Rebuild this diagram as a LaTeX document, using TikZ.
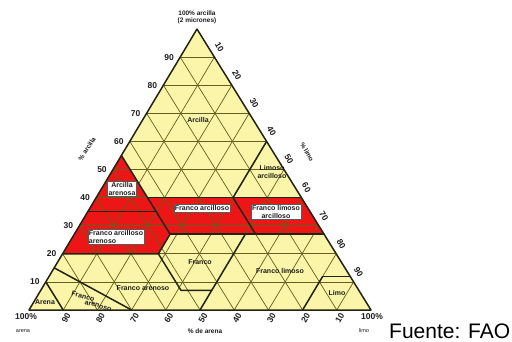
\documentclass[tikz,border=0pt]{standalone}
\usepackage{fontspec}
\setmainfont{Liberation Sans}
\definecolor{soilyel}{RGB}{250,245,168}
\definecolor{soilred}{RGB}{236,22,22}
\definecolor{gridcol}{RGB}{100,95,30}
\definecolor{bndcol}{RGB}{35,35,20}
\definecolor{txtcol}{RGB}{30,30,30}
\definecolor{boxedge}{RGB}{90,90,90}
\tikzset{
  gridline/.style={draw=gridcol,line width=0.7pt},
  bndline/.style={draw=bndcol,line width=1.5pt,line join=round},
  ticklab/.style={font=\fontsize{8.5}{9}\selectfont\bfseries,text=txtcol,inner sep=0pt},
  smalllab/.style={font=\fontsize{6.5}{7}\selectfont\bfseries,text=txtcol,inner sep=0pt,align=center},
  tinylab/.style={font=\fontsize{5.5}{6}\selectfont,text=txtcol,inner sep=0pt},
  arealab/.style={font=\fontsize{7}{7.5}\selectfont\bfseries,text=txtcol,inner sep=0pt,align=center},
  boxlab/.style={font=\fontsize{7}{7.5}\selectfont\bfseries,text=txtcol,fill=white,draw=boxedge,line width=0.5pt,inner sep=1.2pt,align=center}
}
\begin{document}
\begin{tikzpicture}[x=1pt,y=-1pt]
\useasboundingbox (0,0) rectangle (512,341);
\fill[white] (0,0) rectangle (512,341);
\begin{scope}[shift={(29,310)},x={(3.42pt,0pt)},y={(1.68pt,2.81pt)}]
  % background triangle (silt, clay)
  \fill[soilyel] (0,0) -- (100,0) -- (0,100) -- cycle;
  % red classes
  \fill[soilred] (0,55) -- (15,40) -- (60,40) -- (73,27) -- (28,27) -- (28,20) -- (0,20) -- cycle;
  % grid
  \foreach \k in {10,20,...,90} {
    \draw[gridline] (0,\k) -- ({100-\k},\k);
    \draw[gridline] (\k,0) -- (\k,{100-\k});
    \draw[gridline] ({100-\k},0) -- (0,{100-\k});
  }
  % class boundaries
  \draw[bndline] (15,40) -- (60,40);
  \draw[bndline] (40,40) -- (40,60);
  \draw[bndline] (0,55) -- (28,27);
  \draw[bndline] (0,35) -- (20,35);
  \draw[bndline] (40,40) -- (53,27);
  \draw[bndline] (28,27) -- (73,27);
  \draw[bndline] (28,27) -- (28,20) -- (0,20);
  \draw[bndline] (28,20) -- (41,7) -- (50,7) -- (50,0);
  \draw[bndline] (50,27) -- (50,7);
  \draw[bndline] (80,12) -- (88,12);
  \draw[bndline] (80,12) -- (80,0);
  \draw[bndline] (0,15) -- (30,0);
  \draw[bndline] (0,10) -- (10,0);
  \draw[bndline] (0,0) -- (100,0) -- (0,100) -- cycle;
\end{scope}
% axis labels
\foreach \c in {10,20,...,90}
  \node[ticklab] (cl\c) at ({29+1.68*\c-11},{310-2.81*\c}) {\c};
\foreach \t in {10,20,...,90}
  \node[ticklab,rotate=-60] (si\t) at ({197+1.74*\t+5},{29+2.81*\t-10}) {\t};
\foreach \s in {10,20,...,90}
  \node[ticklab,rotate=60] (sa\s) at ({29+3.42*(100-\s)+3},318) {\s};
\node[smalllab] (top) at (197,17) {100\% arcilla\\(2 micrones)};
\node[ticklab] (cornerL) at (26,317) {100\%};
\node[tinylab] (arenaL) at (23,331) {arena};
\node[ticklab] (cornerR) at (372,317) {100\%};
\node[tinylab] (limoR) at (364,331) {limo};
\node[smalllab] (dearena) at (205,331) {\% de arena};
\node[smalllab,rotate=58] (pcla) at (87,149) {\% arcilla};
\node[smalllab,rotate=-60] (pcli) at (307,152) {\% limo};
% area labels
\node[arealab] (arcilla) at (198,120) {Arcilla};
\node[arealab] (limarc) at (272,172) {Limoso\\arcilloso};
\node[boxlab] (arcaren) at (122,189) {Arcilla\\arenosa};
\node[boxlab] (franarc) at (202,208) {Franco arcilloso};
\node[boxlab] (franlimarc) at (276,212) {Franco limoso\\arcilloso};
\node[boxlab,align=left] (franarcaren) at (116,237) {Franco arcilloso\\arenoso};
\node[arealab] (franco) at (200,262) {Franco};
\node[arealab] (franlim) at (280,271) {Franco limoso};
\node[arealab] (franaren) at (143,288) {Franco arenoso};
\node[arealab,rotate=-15] (fa1) at (83,296) {Franco};
\node[arealab,rotate=-15] (fa2) at (98,306) {arenoso};
\node[arealab] (arena) at (45,302) {Arena};
\node[arealab] (limo) at (337,293) {Limo};
\node[font=\fontsize{21}{24}\selectfont,anchor=base west,inner sep=0pt] (fuente) at (389,338) {Fuente: FAO};
\end{tikzpicture}
\end{document}
